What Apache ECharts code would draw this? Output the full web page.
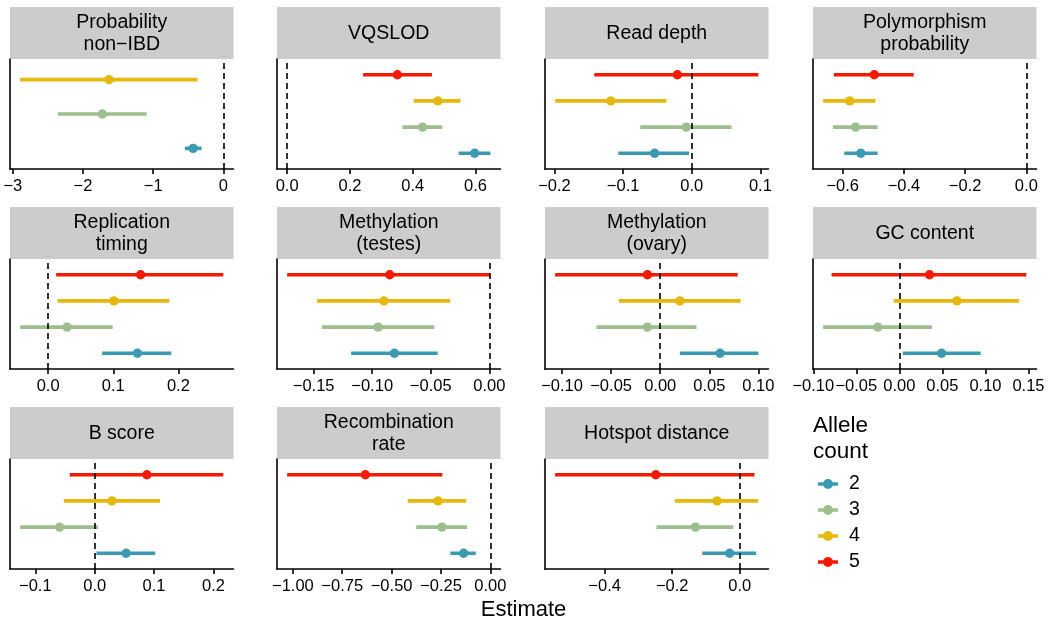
<!DOCTYPE html>
<html>
<head>
<meta charset="utf-8">
<title>Estimates by allele count</title>
<script src="https://cdn.jsdelivr.net/npm/echarts@6.0.0/dist/echarts.min.js"></script>
<style>
html, body { margin: 0; padding: 0; background: #ffffff; }
#main { width: 1050px; height: 625px; }
</style>
</head>
<body>
<div id="main"></div>
<script>
// panel titles, in facet order
const panelTitles = ['Probability\nnon−IBD', 'VQSLOD', 'Read depth', 'Polymorphism\nprobability',
  'Replication\ntiming', 'Methylation\n(testes)', 'Methylation\n(ovary)', 'GC content',
  'B score', 'Recombination\nrate', 'Hotspot distance'];
const alleleCounts = ['2', '3', '4', '5'];
const countColors = ['#3B9AB2', '#9EBE91', '#E4B80E', '#F21A00'];

// estimate and interval per panel, one array per allele count (null = not estimated)
const est2 = [-0.43, 0.597, -0.054, -0.541, 0.137, -0.081, 0.061, 0.049, 0.053, -0.135, -0.030];
const low2 = [-0.548, 0.546, -0.107, -0.595, 0.083, -0.118, 0.020, 0.004, 0.003, -0.203, -0.111];
const high2 = [-0.31, 0.647, -0.004, -0.486, 0.189, -0.044, 0.100, 0.0945, 0.102, -0.074, 0.0485];

const est3 = [-1.724, 0.431, -0.008, -0.558, 0.029, -0.095, -0.013, -0.025, -0.059, -0.245, -0.131];
const low3 = [-2.357, 0.367, -0.075, -0.632, -0.043, -0.143, -0.065, -0.0885, -0.1255, -0.375, -0.2465];
const high3 = [-1.095, 0.494, 0.058, -0.486, 0.099, -0.047, 0.037, 0.038, 0.0056, -0.118, -0.019];

const est4 = [-1.629, 0.480, -0.118, -0.577, 0.101, -0.090, 0.020, 0.067, 0.029, -0.265, -0.067];
const low4 = [-2.895, 0.403, -0.199, -0.664, 0.0144, -0.147, -0.042, -0.0066, -0.052, -0.419, -0.192];
const high4 = [-0.367, 0.552, -0.037, -0.493, 0.186, -0.0334, 0.082, 0.139, 0.110, -0.122, 0.055];

const est5 = [null, 0.351, -0.021, -0.497, 0.142, -0.085, -0.013, 0.035, 0.088, -0.633, -0.2485];
const low5 = [null, 0.242, -0.142, -0.629, 0.0123, -0.1726, -0.107, -0.0787, -0.042, -1.029, -0.5465];
const high5 = [null, 0.461, 0.097, -0.368, 0.269, 0.0009, 0.079, 0.1475, 0.2167, -0.243, 0.0436];

// x tick labels per panel
const tickValues = [
  [-3, -2, -1, 0], [0, 0.2, 0.4, 0.6], [-0.2, -0.1, 0, 0.1], [-0.6, -0.4, -0.2, 0],
  [0, 0.1, 0.2], [-0.15, -0.1, -0.05, 0], [-0.1, -0.05, 0, 0.05, 0.1], [-0.1, -0.05, 0, 0.05, 0.1, 0.15],
  [-0.1, 0, 0.1, 0.2], [-1, -0.75, -0.5, -0.25, 0], [-0.4, -0.2, 0]
];
const tickDigits = [0, 1, 1, 1, 1, 2, 2, 2, 1, 2, 1];

const est = [est2, est3, est4, est5];
const low = [low2, low3, low4, low5];
const high = [high2, high3, high4, high5];

const font = "'Liberation Sans', Arial, Helvetica, sans-serif";
const colLeft = [10, 277, 545, 813];
const rowTop = [59, 259, 459];
const plotW = 223.5, plotH = 110, stripH = 52;
const axisStyle = { color: '#000', width: 1.6 };

function renderRange(params, api) {
  const y = api.value(1);
  const a = api.coord([api.value(2), y]);
  const b = api.coord([api.value(3), y]);
  const p = api.coord([api.value(0), y]);
  const color = api.visual('color');
  return {
    type: 'group',
    children: [
      { type: 'line', shape: { x1: a[0], y1: a[1], x2: b[0], y2: b[1] }, style: { stroke: color, lineWidth: 3.6 } },
      { type: 'circle', shape: { cx: p[0], cy: p[1], r: 4.7 }, style: { fill: color } }
    ]
  };
}

function fmt(digits) {
  return function (v) {
    return (v < 0 ? '−' : '') + Math.abs(v).toFixed(digits);
  };
}

const grids = [], xAxes = [], yAxes = [], series = [], graphics = [];

panelTitles.forEach((title, p) => {
  const c = p % 4, r = Math.floor(p / 4);
  grids.push({ left: colLeft[c], top: rowTop[r], width: plotW, height: plotH });

  const levels = [0, 1, 2, 3].filter(k => est[k][p] != null);
  // range includes 0 (reference line) plus 5% padding like ggplot
  let lo = 0, hi = 0;
  levels.forEach(k => { lo = Math.min(lo, low[k][p]); hi = Math.max(hi, high[k][p]); });
  const pad = (hi - lo) * 0.05;

  xAxes.push({
    gridIndex: p, type: 'value', min: lo - pad, max: hi + pad,
    axisLine: { show: true, onZero: false, lineStyle: axisStyle },
    axisTick: { show: true, length: 5, lineStyle: axisStyle, customValues: tickValues[p] },
    axisLabel: { show: true, margin: 9, fontSize: 16.5, color: '#000', fontFamily: font,
      hideOverlap: false, showMinLabel: true, showMaxLabel: true,
      customValues: tickValues[p], formatter: fmt(tickDigits[p]) },
    splitLine: { show: false }
  });
  yAxes.push({
    gridIndex: p, type: 'value', min: 0.4, max: levels.length + 0.6,
    axisLine: { show: true, onZero: false, lineStyle: axisStyle },
    axisTick: { show: false }, axisLabel: { show: false }, splitLine: { show: false }
  });

  // dashed line at zero
  series.push({
    type: 'line', xAxisIndex: p, yAxisIndex: p, data: [], z: 1,
    markLine: {
      silent: true, symbol: 'none', animation: false,
      label: { show: false },
      lineStyle: { color: '#000', type: [6, 4], width: 1.6 },
      data: [{ xAxis: 0 }]
    }
  });

  levels.forEach((k, i) => {
    series.push({
      type: 'custom', name: alleleCounts[k], xAxisIndex: p, yAxisIndex: p, z: 3,
      itemStyle: { color: countColors[k] },
      renderItem: renderRange,
      encode: { x: [0, 2, 3], y: 1 },
      data: [[est[k][p], i + 1, low[k][p], high[k][p]]]
    });
  });

  // facet strip
  graphics.push({
    type: 'rect', left: colLeft[c], top: rowTop[r] - stripH,
    shape: { width: plotW, height: stripH }, style: { fill: '#cccccc' }, silent: true
  });
  graphics.push({
    type: 'text', x: colLeft[c] + plotW / 2, y: rowTop[r] - stripH / 2 + 1,
    style: { text: title, fill: '#000', font: '19.5px ' + font, lineHeight: 22,
      align: 'center', verticalAlign: 'middle', textAlign: 'center', textVerticalAlign: 'middle' },
    silent: true
  });
});

graphics.push({
  type: 'text', x: 523.5, y: 599,
  style: { text: 'Estimate', fill: '#000', font: '22px ' + font,
    align: 'center', verticalAlign: 'top', textAlign: 'center', textVerticalAlign: 'top' },
  silent: true
});

const keyIcon = 'path://M0,3.2 L20,3.2 L20,6.8 L0,6.8 Z M10,0 A5,5 0 1 1 10,10 A5,5 0 1 1 10,0 Z';

const myChart = echarts.init(document.getElementById('main'));
myChart.setOption({
  animation: false,
  backgroundColor: '#ffffff',
  textStyle: { fontFamily: font },
  title: {
    text: 'Allele\ncount', left: 808, top: 408,
    textStyle: { fontSize: 22.5, fontWeight: 'normal', color: '#000', lineHeight: 26, fontFamily: font }
  },
  legend: {
    orient: 'vertical', left: 813, top: 469, itemWidth: 20, itemHeight: 10, itemGap: 6,
    selectedMode: false,
    data: alleleCounts.map(n => ({ name: n, icon: keyIcon })),
    textStyle: { fontSize: 19.5, lineHeight: 20, color: '#000', padding: [0, 0, 0, 6], fontFamily: font }
  },
  grid: grids,
  xAxis: xAxes,
  yAxis: yAxes,
  series: series,
  graphic: graphics
});

window.addEventListener('resize', () => {
  myChart.resize();
});
</script>
</body>
</html>
